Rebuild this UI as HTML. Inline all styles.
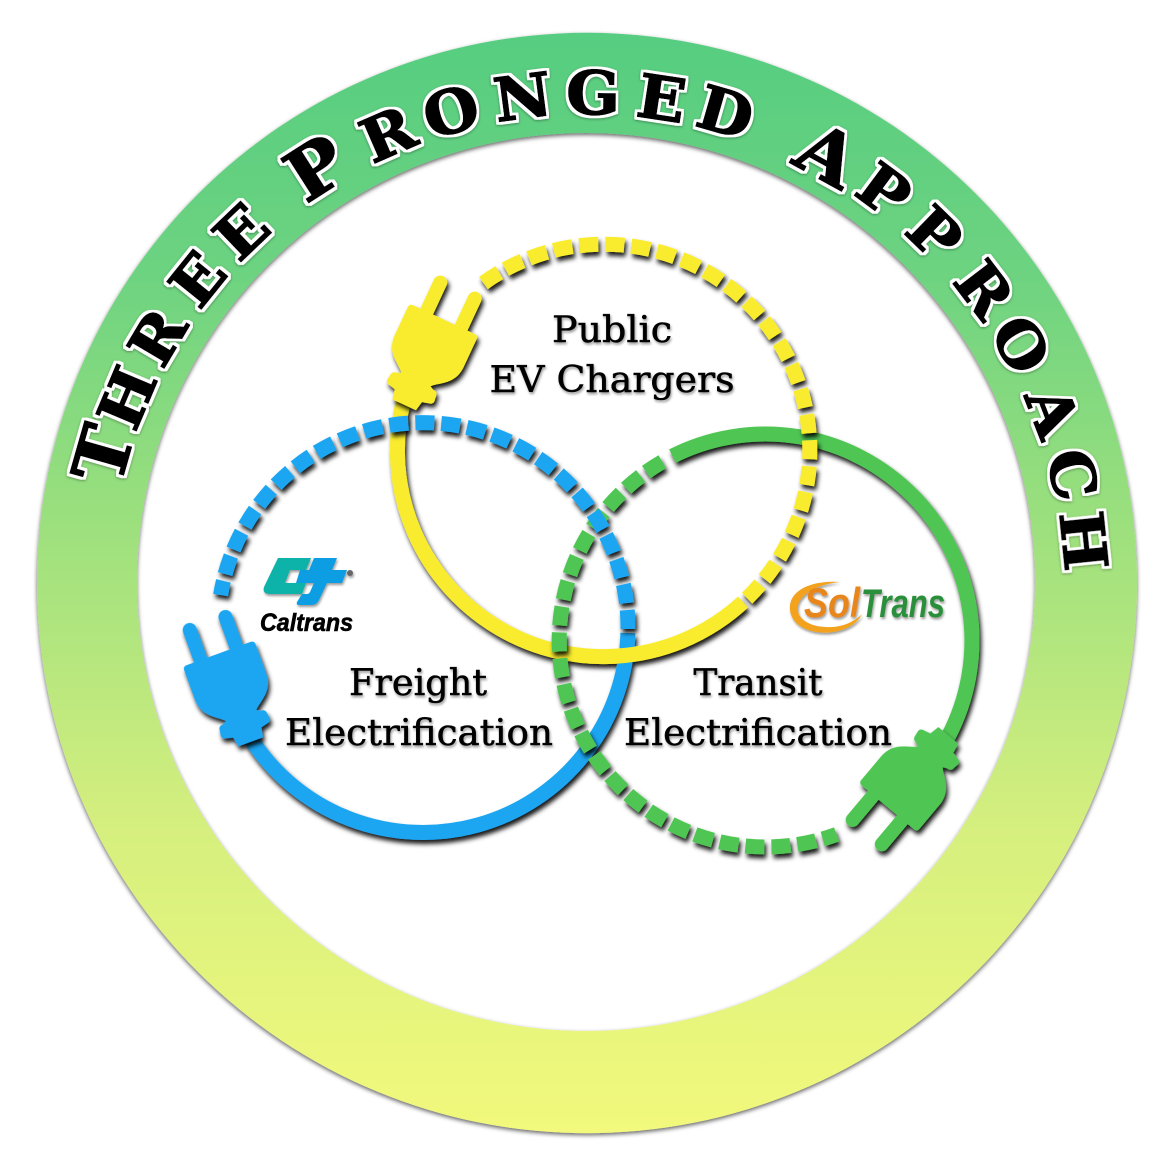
<!DOCTYPE html>
<html><head><meta charset="utf-8"><style>
html,body{margin:0;padding:0;background:#fff}svg{display:block}
.r{font-family:"DejaVu Serif","Liberation Serif",serif;font-weight:bold;fill:#000;stroke:#000;stroke-width:1.5;text-anchor:middle;font-size:60px}
.c{font-size:71px}
.l{font-family:"DejaVu Serif","Liberation Serif",serif;font-size:36px;fill:#000;stroke:#000;stroke-width:.5;text-anchor:middle}
</style></head><body>
<svg width="1160" height="1160" viewBox="0 0 1160 1160" xmlns="http://www.w3.org/2000/svg">
<defs>
<linearGradient id="g" x1="0" y1="33" x2="0" y2="1133" gradientUnits="userSpaceOnUse">
<stop offset="0" stop-color="#56cd80"/><stop offset=".22" stop-color="#6dd380"/><stop offset=".45" stop-color="#9de07e"/><stop offset=".72" stop-color="#d5ef7e"/><stop offset="1" stop-color="#f2f97c"/>
</linearGradient>
<filter id="s1" x="-5%" y="-5%" width="110%" height="110%"><feDropShadow dx="0" dy="2" stdDeviation="2" flood-color="#000" flood-opacity=".6"/></filter>
<filter id="s2" x="-10%" y="-10%" width="125%" height="125%"><feDropShadow dx="2" dy="4" stdDeviation="2.5" flood-color="#000" flood-opacity=".9"/></filter>
<filter id="s3" x="-10%" y="-10%" width="120%" height="120%"><feDropShadow dx="1" dy="2" stdDeviation="1.2" flood-color="#000" flood-opacity=".4"/></filter>
<filter id="o" x="-5%" y="-5%" width="110%" height="110%">
<feMorphology in="SourceAlpha" operator="dilate" radius="2.6" result="d"/>
<feFlood flood-color="#fff"/><feComposite in2="d" operator="in" result="w"/>
<feDropShadow in="w" dx="0" dy="1" stdDeviation="1.2" flood-color="#000" flood-opacity=".35" result="ws"/>
<feMerge><feMergeNode in="ws"/><feMergeNode in="SourceGraphic"/></feMerge>
</filter>
<g id="plug">
<path d="M-13 2 L13 2 L15 -8 L23 -10 Q26 -11 26 -14 L25 -21 Q24 -24 20 -24 L16 -26 C24 -34 37 -38 38 -56 L38 -88 Q38 -92 34 -92 L-34 -92 Q-38 -92 -38 -88 L-38 -56 C-37 -38 -24 -34 -16 -26 L-20 -24 Q-24 -24 -25 -21 L-26 -14 Q-26 -11 -23 -10 L-15 -8 Z"/>
<rect x="-26" y="-131" width="14" height="45" rx="7"/>
<rect x="12" y="-131" width="14" height="45" rx="7"/>
</g>
</defs>
<rect width="1160" height="1160" fill="#fff"/>
<path filter="url(#s1)" fill="url(#g)" fill-rule="evenodd" d="M37 583a550 550 0 1 0 1100 0a550 550 0 1 0 -1100 0Z M137 582a449 449 0 1 1 898 0a449 449 0 1 1 -898 0Z"/>

<g filter="url(#o)">
<text class="r c" transform="rotate(-74.1 587 592) translate(587 114) scale(1.05 1)">T</text>
<text class="r" transform="rotate(-67.1 587 592) translate(587 114) scale(1.05 1)">H</text>
<text class="r" transform="rotate(-59.3 587 592) translate(587 114) scale(1.05 1)">R</text>
<text class="r" transform="rotate(-51.2 587 592) translate(587 114) scale(1.05 1)">E</text>
<text class="r" transform="rotate(-43.8 587 592) translate(587 114) scale(1.05 1)">E</text>
<text class="r c" transform="rotate(-32.6 587 592) translate(587 114) scale(1.05 1)">P</text>
<text class="r" transform="rotate(-23.5 587 592) translate(587 114) scale(1.05 1)">R</text>
<text class="r" transform="rotate(-15.8 587 592) translate(587 114) scale(1.05 1)">O</text>
<text class="r" transform="rotate(-7.4 587 592) translate(587 114) scale(1.05 1)">N</text>
<text class="r" transform="rotate(0.7 587 592) translate(587 114) scale(1.05 1)">G</text>
<text class="r" transform="rotate(8.6 587 592) translate(587 114) scale(1.05 1)">E</text>
<text class="r" transform="rotate(16.1 587 592) translate(587 114) scale(1.05 1)">D</text>
<text class="r c" transform="rotate(28.8 587 592) translate(587 118) scale(1.05 1)">A</text>
<text class="r" transform="rotate(36.5 587 592) translate(587 114) scale(1.05 1)">P</text>
<text class="r" transform="rotate(44.1 587 592) translate(587 114) scale(1.05 1)">P</text>
<text class="r" transform="rotate(52.7 587 592) translate(587 114) scale(1.05 1)">R</text>
<text class="r" transform="rotate(60.3 587 592) translate(587 114) scale(1.05 1)">O</text>
<text class="r" transform="rotate(68.8 587 592) translate(587 114) scale(1.05 1)">A</text>
<text class="r" transform="rotate(76.4 587 592) translate(587 114) scale(1.05 1)">C</text>
<text class="r" transform="rotate(84.1 587 592) translate(587 114) scale(1.05 1)">H</text>
</g>

<g fill="none" stroke-width="15" filter="url(#s2)">
<path stroke="#50c653" d="M948 737A206.5 206.5 0 0 0 672.5 456.1"/>
<path stroke="#1fa6f2" d="M250.2 737.8A205 205 0 0 0 627.9 633"/>
<path stroke="#f9ec2e" d="M403 403A206 206 0 0 0 743.1 602"/>
</g>
<g filter="url(#s2)">
<use href="#plug" fill="#f9ec2e" transform="translate(405 403) rotate(25)"/>
<use href="#plug" fill="#1fa6f2" transform="translate(250 740) rotate(-20)"/>
<use href="#plug" fill="#50c653" transform="translate(947 737) rotate(220)"/>
</g>
<g fill="none" stroke-width="15" stroke-dasharray="19 7" filter="url(#s2)">
<path stroke="#50c653" d="M662.3 461.7A206.5 206.5 0 0 0 836.6 834.4"/>
<path stroke="#1fa6f2" d="M628 629A205 205 0 0 0 220.6 595.1"/>
<path stroke="#f9ec2e" d="M747.1 598.2A206 206 0 0 0 483.2 283.2"/>
</g>

<g filter="url(#s3)">
<text class="l" x="612" y="342" textLength="120" lengthAdjust="spacingAndGlyphs">Public</text>
<text class="l" x="612" y="392" textLength="245" lengthAdjust="spacingAndGlyphs">EV Chargers</text>
<text class="l" x="418" y="695" textLength="138" lengthAdjust="spacingAndGlyphs">Freight</text>
<text class="l" x="419" y="745" textLength="268" lengthAdjust="spacingAndGlyphs">Electrification</text>
<text class="l" x="758" y="695" textLength="129" lengthAdjust="spacingAndGlyphs">Transit</text>
<text class="l" x="758" y="745" textLength="268" lengthAdjust="spacingAndGlyphs">Electrification</text>
</g>

<g filter="url(#s3)">
<path fill="#0db2a8" d="M278 558L311 558L306 570L290 570L285 583L306 583L302 594L270 594Q262 594 264 587Z"/>
<path fill="#0a9de2" d="M314 558L337 558L332 570L347 570L342 583L327 583L319 600Q317 605 311 605L299 605Q296 605 297 602L302 594L307 594Q309 594 310 592L314 583L296 583L300 570L309 570Z"/>
<circle cx="350" cy="573" r="3" fill="#666"/>
</g>
<text x="260" y="631" font-family="Liberation Sans,sans-serif" font-weight="bold" font-style="italic" font-size="25" stroke="#000" stroke-width=".6" textLength="93" lengthAdjust="spacingAndGlyphs" fill="#000">Caltrans</text>

<g filter="url(#s3)">
<path fill="#f2a21e" d="M840 582C812 580 788 590 790 610C792 630 820 636 838 631C850 628 858 622 862 614C852 624 838 628 825 627C808 626 796 618 798 606C800 594 818 584 840 582Z"/>
<text x="804" y="617" font-family="Liberation Sans,sans-serif" font-weight="bold" font-style="italic" font-size="42" textLength="56" lengthAdjust="spacingAndGlyphs" fill="#e8861e">Sol</text>
<text x="861" y="617" font-family="Liberation Sans,sans-serif" font-weight="bold" font-style="italic" font-size="40" textLength="84" lengthAdjust="spacingAndGlyphs" fill="#2a8f3a">Trans</text>
</g>
</svg>
</body></html>
